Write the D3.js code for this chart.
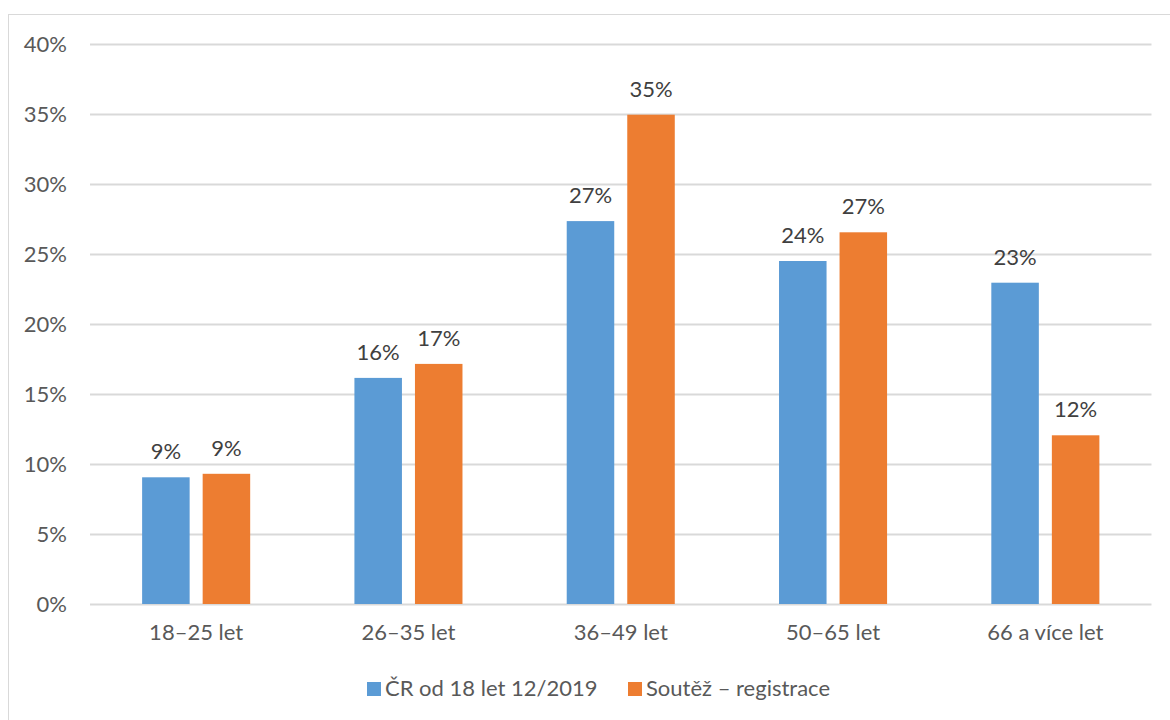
<!DOCTYPE html>
<html>
<head>
<meta charset="utf-8">
<script src="https://cdn.jsdelivr.net/npm/d3@7"></script>
<style>
  html, body { margin: 0; padding: 0; background: #fff; }
  svg { display: block; font-family: Lato, "Open Sans", sans-serif; }
</style>
</head>
<body>
<svg id="chart" width="1170" height="720"></svg>
<script>
const categories = ["18–25 let", "26–35 let", "36–49 let", "50–65 let", "66 a více let"];
const seriesNames = ["ČR od 18 let 12/2019", "Soutěž – registrace"];
const seriesCR = [9.05, 16.15, 27.35, 24.5, 22.95];
const seriesSoutez = [9.3, 17.15, 34.95, 26.55, 12.05];
const labelsCR = ["9%", "16%", "27%", "24%", "23%"];
const labelsSoutez = ["9%", "17%", "35%", "27%", "12%"];
const yTicks = [0, 5, 10, 15, 20, 25, 30, 35, 40];
const colors = ["#5B9BD5", "#ED7D31"];

const svg = d3.select("#chart");
const plotLeft = 90, plotRight = 1151.5, plotTop = 44, plotBottom = 604;

// chart area border (top + left visible)
svg.append("rect").attr("x", 8.5).attr("y", 14.5).attr("width", 1200).attr("height", 800)
  .attr("fill", "none").attr("stroke", "#D9D9D9").attr("stroke-width", 1);

const y = d3.scaleLinear().domain([0, 40]).range([plotBottom, plotTop]);
const x0 = d3.scaleBand().domain(categories).range([plotLeft, plotRight]).padding(0);
const x1 = d3.scaleBand().domain([0, 1]).range([0, x0.bandwidth()])
  .paddingInner(0.215).paddingOuter(0.861);

// gridlines + y labels
const yAxis = d3.axisLeft(y).tickValues(yTicks).tickFormat(d => d + "%")
  .tickSize(-(plotRight - plotLeft)).tickPadding(23);
const gy = svg.append("g").attr("transform", `translate(${plotLeft},0)`).call(yAxis);
gy.select(".domain").remove();
gy.selectAll(".tick line").attr("stroke", "#D9D9D9").attr("stroke-width", 2);
gy.selectAll(".tick text").attr("fill", "#595959").style("font-size", "22px")
  .style("font-family", "Lato, 'Open Sans', sans-serif");

// category axis
const xAxis = d3.axisBottom(x0).tickSize(0).tickPadding(20);
const gx = svg.append("g").attr("transform", `translate(0,${plotBottom})`).call(xAxis);
gx.select(".domain").remove();
gx.selectAll(".tick text").attr("fill", "#595959").style("font-size", "22px")
  .style("font-family", "Lato, 'Open Sans', sans-serif");

// bars
const series = [seriesCR, seriesSoutez];
const labels = [labelsCR, labelsSoutez];
series.forEach((vals, si) => {
  const g = svg.append("g");
  g.selectAll("rect").data(vals).enter().append("rect")
    .attr("x", (d, i) => x0(categories[i]) + x1(si))
    .attr("width", x1.bandwidth())
    .attr("y", d => y(d))
    .attr("height", d => y(0) - y(d))
    .attr("fill", colors[si]);
  g.selectAll("text").data(vals).enter().append("text")
    .attr("x", (d, i) => x0(categories[i]) + x1(si) + x1.bandwidth() / 2)
    .attr("y", d => y(d) - 18)
    .attr("text-anchor", "middle")
    .attr("fill", "#404040")
    .style("font-size", "22px")
    .text((d, i) => labels[si][i]);
});

// legend
const legendItems = [{ x: 367, tx: 385 }, { x: 628, tx: 646 }];
legendItems.forEach((it, i) => {
  svg.append("rect").attr("x", it.x).attr("y", 682).attr("width", 14).attr("height", 14)
    .attr("fill", colors[i]);
  svg.append("text").attr("x", it.tx).attr("y", 696).attr("fill", "#595959")
    .style("font-size", "22px").text(seriesNames[i]);
});
</script>
</body>
</html>
